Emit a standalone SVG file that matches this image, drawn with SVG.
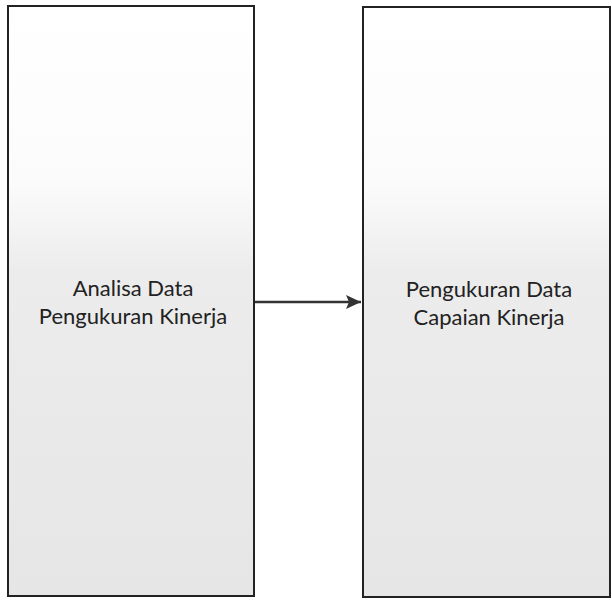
<svg xmlns="http://www.w3.org/2000/svg" width="612" height="600" viewBox="0 0 612 600">
<defs>
<linearGradient id="g" x1="0" y1="0" x2="0" y2="1">
<stop offset="0" stop-color="#ffffff"/>
<stop offset="0.3" stop-color="#fbfbfb"/>
<stop offset="0.45" stop-color="#ececec"/>
<stop offset="1" stop-color="#e6e6e6"/>
</linearGradient>
<marker id="ah" viewBox="0 0 15 14" refX="15" refY="7" markerWidth="15" markerHeight="14" markerUnits="userSpaceOnUse" orient="auto">
<path d="M0,0 L15,7 L0,14 L3,7 Z" fill="#333"/>
</marker>
<style>
.box{fill:url(#g);stroke:#222;stroke-width:2}
.t{font-family:Lato,"Liberation Sans",sans-serif;font-size:22px;fill:#222;text-anchor:middle}
.c{stroke:#333;stroke-width:2.5;fill:none}
</style>
</defs>
<g id="node-analisa">
<rect class="box" x="8" y="6" width="246" height="590"/>
<text class="t" x="133" y="296">Analisa Data</text>
<text class="t" x="133" y="324">Pengukuran Kinerja</text>
</g>
<g id="node-pengukuran">
<rect class="box" x="363" y="7" width="247" height="590"/>
<text class="t" x="489" y="297">Pengukuran Data</text>
<text class="t" x="489" y="325">Capaian Kinerja</text>
</g>
<g id="connectors">
<line class="c" x1="255" y1="302" x2="361" y2="302" marker-end="url(#ah)"/>
</g>
</svg>
